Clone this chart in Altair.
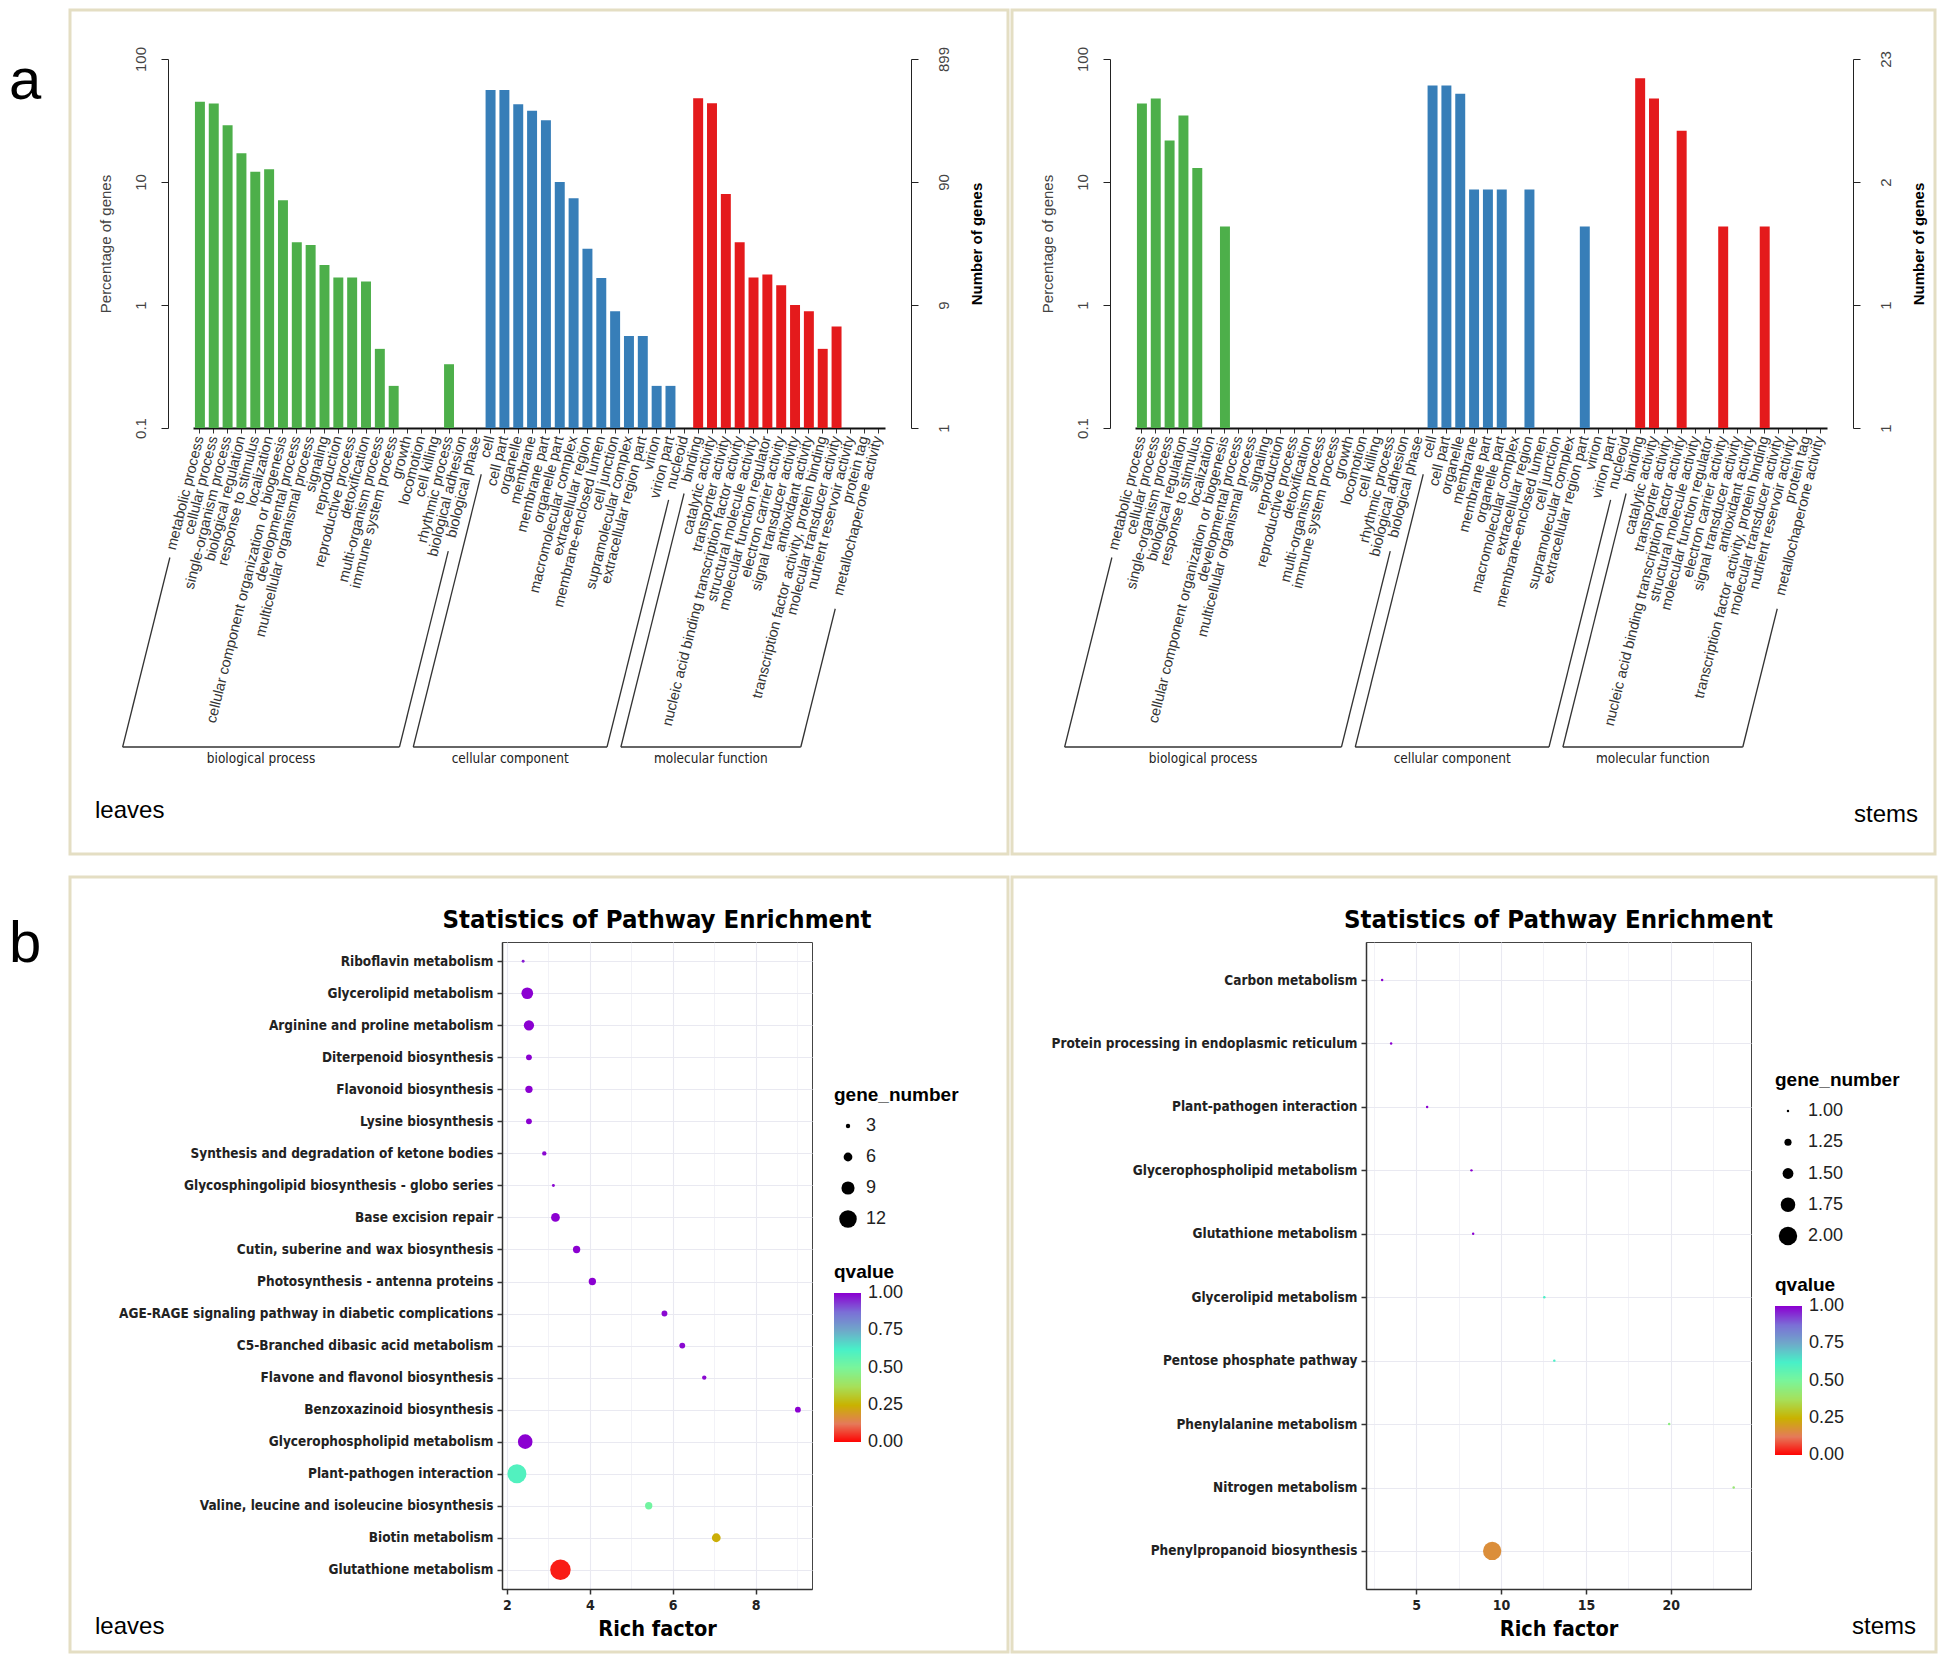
import math
import altair as alt
import pandas as pd

SANS = "Liberation Sans, Arial, Helvetica, sans-serif"
NARROW = "Liberation Sans Narrow, DejaVu Sans Condensed, Arial Narrow, sans-serif"
FRAME_COLOR = "#e4dec3"

# ---------------- GO classification data ----------------
bp_terms = ["metabolic process", "cellular process", "single-organism process", "biological regulation",
            "response to stimulus", "localization", "cellular component organization or biogenesis",
            "developmental process", "multicellular organismal process", "signaling", "reproduction",
            "reproductive process", "detoxification", "multi-organism process", "immune system process",
            "growth", "locomotion", "cell killing", "rhythmic process", "biological adhesion", "biological phase"]
cc_terms = ["cell", "cell part", "organelle", "membrane", "membrane part", "organelle part",
            "macromolecular complex", "extracellular region", "membrane-enclosed lumen", "cell junction",
            "supramolecular complex", "extracellular region part", "virion", "virion part", "nucleoid"]
mf_terms = ["binding", "catalytic activity", "transporter activity",
            "nucleic acid binding transcription factor activity", "structural molecule activity",
            "molecular function regulator", "electron carrier activity", "signal transducer activity",
            "antioxidant activity", "transcription factor activity, protein binding",
            "molecular transducer activity", "nutrient reservoir activity", "protein tag",
            "metallochaperone activity"]
group_names = ["biological process", "cellular component", "molecular function"]
group_colors = ["#4daf4a", "#377eb8", "#e41a1c"]

leaves_bp = [45, 43.4, 29, 17.1, 12.1, 12.7, 7.1, 3.23, 3.07, 2.11, 1.67, 1.67, 1.55, 0.44, 0.22,
             0, 0, 0, 0.33, 0, 0]
leaves_cc = [56, 56, 42.8, 38, 31.7, 10, 7.36, 2.87, 1.66, 0.89, 0.56, 0.56, 0.22, 0.22, 0]
leaves_mf = [47.9, 43.6, 7.97, 3.23, 1.67, 1.77, 1.45, 1.0, 0.89, 0.44, 0.67, 0, 0, 0]

stems_bp = [43.5, 47.8, 21.7, 34.8, 13.0, 0, 4.35, 0, 0, 0, 0, 0, 0, 0, 0, 0, 0, 0, 0, 0, 0]
stems_cc = [60.9, 60.9, 52.2, 8.7, 8.7, 8.7, 0, 8.7, 0, 0, 0, 4.35, 0, 0, 0]
stems_mf = [69.6, 47.8, 0, 26.1, 0, 0, 4.35, 0, 0, 4.35, 0, 0, 0, 0]

pct_ticks = [0.1, 1, 10, 100]
leaves_count_ticks = ["1", "9", "90", "899"]
stems_count_ticks = ["1", "1", "2", "23"]

# ---------------- KEGG enrichment data ----------------
leaves_paths = ["Riboflavin metabolism", "Glycerolipid metabolism", "Arginine and proline metabolism",
                "Diterpenoid biosynthesis", "Flavonoid biosynthesis", "Lysine biosynthesis",
                "Synthesis and degradation of ketone bodies", "Glycosphingolipid biosynthesis - globo series",
                "Base excision repair", "Cutin, suberine and wax biosynthesis", "Photosynthesis - antenna proteins",
                "AGE-RAGE signaling pathway in diabetic complications", "C5-Branched dibasic acid metabolism",
                "Flavone and flavonol biosynthesis", "Benzoxazinoid biosynthesis", "Glycerophospholipid metabolism",
                "Plant-pathogen interaction", "Valine, leucine and isoleucine biosynthesis", "Biotin metabolism",
                "Glutathione metabolism"]
leaves_rich = [2.39, 2.49, 2.53, 2.53, 2.53, 2.53, 2.90, 3.12, 3.17, 3.68, 4.06, 5.80, 6.23, 6.76, 9.02,
               2.44, 2.24, 5.42, 7.05, 3.29]
leaves_genes = [2, 8, 7, 4, 5, 4, 3, 2, 6, 5, 5, 4, 4, 3, 4, 10, 13, 5, 6, 14]
leaves_q = [0.97, 1.0, 1.0, 1.0, 1.0, 1.0, 0.99, 0.99, 1.0, 1.0, 1.0, 0.99, 0.99, 0.99, 1.0, 1.0,
            0.6, 0.52, 0.24, 0.03]

stems_paths = ["Carbon metabolism", "Protein processing in endoplasmic reticulum", "Plant-pathogen interaction",
               "Glycerophospholipid metabolism", "Glutathione metabolism", "Glycerolipid metabolism",
               "Pentose phosphate pathway", "Phenylalanine metabolism", "Nitrogen metabolism",
               "Phenylpropanoid biosynthesis"]
stems_rich = [3.0, 3.53, 5.65, 8.26, 8.36, 12.55, 13.14, 19.9, 23.7, 9.48]
stems_genes = [1, 1, 1, 1, 1, 1, 1, 1, 1, 2]
stems_q = [1.0, 1.0, 1.0, 1.0, 1.0, 0.62, 0.62, 0.45, 0.42, 0.17]

q_stops = [0, 0.125, 0.25, 0.375, 0.5, 0.625, 0.75, 0.875, 1]
q_colors = ["#ff0000", "#e57a5a", "#c9b200", "#a6e05a", "#7af59a", "#48f0c8", "#6fa9c9", "#7b6fd6", "#8b00d1"]
q_legend_vals = [0, 0.25, 0.5, 0.75, 1]

panel_letters = ["a", "b"]
sample_names = ["leaves", "stems"]
kegg_title = "Statistics of Pathway Enrichment"
x_title = "Rich factor"
size_title = "gene_number"
color_title = "qvalue"


def deco_text(txt, x, y, size, align="left", baseline="alphabetic", font=SANS, weight="normal"):
    return alt.Chart(alt.Data(values=[{"t": txt}])).mark_text(
        align=align, baseline=baseline, fontSize=size, font=font, fontWeight=weight, color="black"
    ).encode(x=alt.value(x), y=alt.value(y), text="t:N")


def frame_rect(x1, x2, y1, y2):
    return alt.Chart(alt.Data(values=[{}])).mark_rect(
        fill="white", fillOpacity=0, stroke=FRAME_COLOR, strokeWidth=3
    ).encode(x=alt.value(x1), x2=alt.value(x2), y=alt.value(y1), y2=alt.value(y2))


def letter_spacer(letter, baseline_y):
    # narrow first column holding the panel letter; keeps both rows' frames aligned
    return deco_text(letter, 0, baseline_y, 58).properties(
        width=58, height=1, view=alt.ViewBackground(stroke="transparent"))


# ---------------- GO panel ----------------
GO_W, GO_H = 692, 369
STEP = GO_W / 50.0
ANG = math.radians(76)
CHAR_W = 6.6
LABEL_TOP = GO_H + 9
BRACKET_Y = 688


def go_panel(bp, cc, mf, count_ticks, sample, sample_x, sample_y, sample_align, frame):
    terms = bp_terms + cc_terms + mf_terms
    groups = ([group_names[0]] * len(bp_terms) + [group_names[1]] * len(cc_terms)
              + [group_names[2]] * len(mf_terms))
    df = pd.DataFrame({"term": terms, "group": groups, "pct": bp + cc + mf})
    df = df[df["pct"] > 0]

    xscale = alt.Scale(domain=terms, paddingInner=0.28, paddingOuter=0.14)
    ylog = alt.Scale(type="log", domain=[pct_ticks[0], pct_ticks[-1]], nice=False)

    bars = alt.Chart(df).mark_bar().encode(
        x=alt.X("term:N", scale=xscale, axis=alt.Axis(
            title=None, labelAngle=-76, labelAlign="right", labelBaseline="middle", labelFontSize=14.5,
            labelFont=SANS, labelColor="#333", labelPadding=3, labelLimit=0, labelOverlap=False,
            tickSize=5, tickColor="#333", domainColor="#111", domainWidth=2)),
        y=alt.Y("pct:Q", scale=ylog, axis=alt.Axis(
            values=pct_ticks, format="~g", orient="left", offset=25, grid=False,
            labelAngle=-90, labelAlign="center", labelBaseline="bottom", labelFontSize=15,
            labelFont=SANS, labelColor="#444", labelPadding=13, tickSize=7, tickColor="#222",
            domainColor="#222", title="Percentage of genes", titleFont=SANS, titleFontSize=15,
            titleFontWeight="normal", titleColor="#444", titlePadding=20)),
        y2=alt.Y2Datum(pct_ticks[0]),
        color=alt.Color("group:N", scale=alt.Scale(domain=group_names, range=group_colors), legend=None),
    )

    # right axis: number of genes (carried by an invisible tick layer)
    th = [math.sqrt(pct_ticks[i] * pct_ticks[i + 1]) for i in range(len(pct_ticks) - 1)]
    expr = ""
    for i, t in enumerate(th):
        expr += f"datum.value < {t} ? '{count_ticks[i]}' : "
    expr += f"'{count_ticks[-1]}'"
    right = alt.Chart(df).mark_tick(opacity=0).encode(
        x=alt.value(GO_W),
        y=alt.Y("pct:Q", scale=ylog, axis=alt.Axis(
            values=pct_ticks, orient="right", offset=26, grid=False, labelExpr=expr,
            labelAngle=-90, labelAlign="center", labelBaseline="top", labelFontSize=15,
            labelFont=SANS, labelColor="#444", labelPadding=18, tickSize=7, tickColor="#222",
            domainColor="#222", title="Number of genes", titleFont=SANS, titleFontSize=15,
            titleFontWeight="bold", titleColor="black", titleAngle=270, titleBaseline="top",
            titlePadding=18)),
    )

    # group brackets under the category labels
    c, s, tn = math.cos(ANG), math.sin(ANG), math.tan(ANG)
    segs, glabs = [], []
    start = 0
    for gname, gterms in zip(group_names, [bp_terms, cc_terms, mf_terms]):
        f, l = start, start + len(gterms) - 1

        def top(i):
            L = len(terms[i]) * CHAR_W + 12
            return (i + 0.5) * STEP - L * c, LABEL_TOP + L * s

        (fx, fy), (lx, ly) = top(f), top(l)
        bfx = fx - (BRACKET_Y - fy) / tn
        blx = lx - (BRACKET_Y - ly) / tn
        segs += [dict(x1=fx, y1=fy, x2=bfx, y2=BRACKET_Y),
                 dict(x1=bfx, y1=BRACKET_Y, x2=blx, y2=BRACKET_Y),
                 dict(x1=blx, y1=BRACKET_Y, x2=lx, y2=ly)]
        glabs.append(dict(gx=(bfx + blx) / 2, gy=BRACKET_Y + 12, label=gname))
        start = l + 1

    brackets = alt.Chart(pd.DataFrame(segs)).mark_rule(color="#333", strokeWidth=1.3).encode(
        x=alt.X("x1:Q", scale=None, axis=None), x2="x2:Q",
        y=alt.Y("y1:Q", scale=None, axis=None), y2="y2:Q")
    gtext = alt.Chart(pd.DataFrame(glabs)).mark_text(
        font=NARROW, fontSize=13.5, color="#222", baseline="middle", align="center").encode(
        x=alt.X("gx:Q", scale=None, axis=None), y=alt.Y("gy:Q", scale=None, axis=None), text="label:N")

    layers = [frame_rect(*frame), bars, right, brackets, gtext,
              deco_text(sample, sample_x, sample_y, 24, align=sample_align)]
    return alt.layer(*layers).resolve_scale(x="independent", y="independent").properties(
        width=GO_W, height=GO_H, view=alt.ViewBackground(stroke="transparent"))


# ---------------- KEGG bubble panel ----------------
B_H = 647
GRAD_LEN, GRAD_W = 149, 27


def bubble_panel(paths, rich, genes, q, xdom, xmajor, xall, size_scale, size_vals, size_fmt,
                 W, frame, sample, sample_x, sample_align, leg):
    df = pd.DataFrame({"pathway": paths, "rich": rich, "gene_number": genes, "qvalue": q})
    color_scale = alt.Scale(domain=q_stops, range=q_colors, interpolate="rgb")
    major_js = "[" + ",".join(str(v) for v in xmajor) + "]"
    is_minor = f"indexof({major_js}, datum.value) < 0"
    pts = alt.Chart(df).mark_circle(opacity=1).encode(
        x=alt.X("rich:Q", scale=alt.Scale(domain=xdom, nice=False, zero=False), axis=alt.Axis(
            values=xall, labelExpr=f"indexof({major_js}, datum.value) >= 0 ? datum.label : ''",
            tickOpacity={"condition": {"test": is_minor, "value": 0}, "value": 1},
            gridWidth={"condition": {"test": is_minor, "value": 0.6}, "value": 1.1},
            gridColor="#e9e9f1", grid=True, tickSize=5, tickColor="#333", tickWidth=1.5,
            domainColor="#333", domainWidth=1.5, labelFont=NARROW, labelFontSize=14,
            labelFontWeight="bold", labelColor="#222", labelPadding=4,
            title=x_title, titleFont=NARROW, titleFontSize=21.5, titleFontWeight="bold",
            titleColor="black", titlePadding=6)),
        y=alt.Y("pathway:N", sort=paths, scale=alt.Scale(type="point", padding=0.6), axis=alt.Axis(
            title=None, grid=True, gridColor="#e9e9f1", gridWidth=1.1, tickSize=5, tickColor="#333",
            tickWidth=1.5, domainColor="#333", domainWidth=1.5, labelFont=NARROW, labelFontSize=13.5,
            labelFontWeight="bold", labelColor="#222", labelPadding=4, labelLimit=0)),
        size=alt.Size("gene_number:Q", scale=size_scale, legend=None),
        color=alt.Color("qvalue:Q", scale=color_scale, legend=None),
    )

    # size legend (drawn with the same size scale)
    n = len(size_vals)
    sdf = pd.DataFrame({"gene_number": size_vals,
                        "ly": [leg["rows_y"] + k * leg["row_step"] for k in range(n)],
                        "lab": [format(v, size_fmt) for v in size_vals]})
    s_circ = alt.Chart(sdf).mark_circle(opacity=1, color="black").encode(
        x=alt.value(leg["sym_x"]), y=alt.Y("ly:Q", scale=None, axis=None),
        size=alt.Size("gene_number:Q", scale=size_scale, legend=None))
    s_lab = alt.Chart(sdf).mark_text(align="left", baseline="middle", font=SANS, fontSize=18,
                                     color="#222").encode(
        x=alt.value(leg["lab_x"]), y=alt.Y("ly:Q", scale=None, axis=None), text="lab:N")

    # colour legend (gradient drawn with the same colour scale)
    gb = leg["grad_top"] + GRAD_LEN
    nsl = 150
    sl = GRAD_LEN / (nsl - 1)
    gq = [i / (nsl - 1) for i in range(nsl)]
    gdf = pd.DataFrame({"qvalue": gq,
                        "gy1": [min(gb, gb - v * GRAD_LEN + sl / 2 + 0.5) for v in gq],
                        "gy2": [max(gb - GRAD_LEN, gb - v * GRAD_LEN - sl / 2 - 0.5) for v in gq]})
    g_rect = alt.Chart(gdf).mark_rect().encode(
        x=alt.value(leg["x"]), x2=alt.value(leg["x"] + GRAD_W),
        y=alt.Y("gy1:Q", scale=None, axis=None), y2="gy2:Q",
        color=alt.Color("qvalue:Q", scale=color_scale, legend=None))
    ldf = pd.DataFrame({"ly": [gb - v * GRAD_LEN for v in q_legend_vals],
                        "lab": [format(v, ".2f") for v in q_legend_vals]})
    g_lab = alt.Chart(ldf).mark_text(align="left", baseline="middle", font=SANS, fontSize=18,
                                     color="#222").encode(
        x=alt.value(leg["x"] + GRAD_W + 7), y=alt.Y("ly:Q", scale=None, axis=None), text="lab:N")

    layers = [frame_rect(*frame), pts, s_circ, s_lab, g_rect, g_lab,
              deco_text(size_title, leg["x"], leg["size_title_y"], 19, baseline="middle", weight="bold"),
              deco_text(color_title, leg["x"], leg["grad_top"] - 21, 19, baseline="middle", weight="bold"),
              deco_text(kegg_title, W / 2, -14, 25.5, align="center", font=NARROW, weight="bold"),
              deco_text(sample, sample_x, 692, 24, align=sample_align)]
    return alt.layer(*layers).resolve_scale(x="independent", y="independent").properties(
        width=W, height=B_H, view=alt.ViewBackground(stroke="#444", strokeWidth=1))


a_left = go_panel(leaves_bp, leaves_cc, leaves_mf, leaves_count_ticks, sample_names[0],
                  -98, 759, "left", (-123, 815, -49, 795))
a_right = go_panel(stems_bp, stems_cc, stems_mf, stems_count_ticks, sample_names[1],
                   783, 763, "right", (-123, 800, -49, 795))

b_left = bubble_panel(leaves_paths, leaves_rich, leaves_genes, leaves_q, [1.88, 9.36], [2, 4, 6, 8],
                      [2, 3, 4, 5, 6, 7, 8, 9],
                      alt.Scale(type="pow", exponent=2, domain=[0, 12], range=[0, 308]),
                      [3, 6, 9, 12], "d", 310, (-432, 506, -65, 710), sample_names[0],
                      -407, "left",
                      dict(x=332, sym_x=346, lab_x=364, size_title_y=153, rows_y=184, row_step=31,
                           grad_top=351))
b_right = bubble_panel(stems_paths, stems_rich, stems_genes, stems_q, [2.05, 24.72], [5, 10, 15, 20],
                       [2.5, 5, 7.5, 10, 12.5, 15, 17.5, 20, 22.5],
                       alt.Scale(type="pow", exponent=3, domain=[1, 2], range=[6, 336]),
                       [1, 1.25, 1.5, 1.75, 2], ".2f", 385, (-354, 570, -65, 710), sample_names[1],
                       550, "right",
                       dict(x=409, sym_x=422, lab_x=442, size_title_y=138, rows_y=169, row_step=31.25,
                            grad_top=364))

indep = dict(color="independent", size="independent")
top = alt.hconcat(letter_spacer(panel_letters[0], 40), a_left, a_right, spacing=0).resolve_scale(**indep)
bottom = alt.hconcat(letter_spacer(panel_letters[1], 20), b_left, b_right, spacing=0).resolve_scale(**indep)
chart = (alt.vconcat(top, bottom, spacing=19, padding=0).resolve_scale(**indep)
         .configure_view(stroke="transparent"))

chart.save("out.html", embed_options={"renderer": "svg", "actions": False})
